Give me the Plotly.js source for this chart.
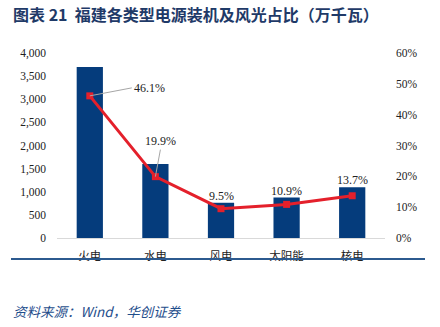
<!DOCTYPE html>
<html><head><meta charset="utf-8">
<script src="https://cdn.plot.ly/plotly-3.0.1.min.js"></script>
<style>html,body{margin:0;padding:0;background:#fff;}#c{width:440px;height:327px;}</style>
</head><body><div id="c"></div>
<script>
const categories = ['火电','水电','风电','太阳能','核电'];
const capacity = [3700, 1598, 762, 875, 1099];
const share = [46.1, 19.9, 9.5, 10.9, 13.7];
const shareLabels = ['46.1%','19.9%','9.5%','10.9%','13.7%'];
const leftTicks = [0,500,1000,1500,2000,2500,3000,3500,4000];
const rightTicks = [0,10,20,30,40,50,60];

const serif = 'Liberation Serif, Times New Roman, serif';
const cjk = 'Noto Sans CJK SC, sans-serif';

const traces = [
  {type:'bar', x:categories, y:capacity, marker:{color:'#053C7C'}, width:0.4, hoverinfo:'skip'},
  {type:'scatter', mode:'lines+markers', x:categories, y:share, yaxis:'y2',
   line:{color:'#E4202B', width:3}, marker:{symbol:'square', size:7, color:'#E4202B'}, hoverinfo:'skip'}
];

const annotations = [];
annotations.push({x:categories[0], y:share[0], xref:'x', yref:'y2', text:shareLabels[0], showarrow:true,
  arrowhead:0, arrowwidth:1, arrowcolor:'#A6A6A6', ax:42, ay:-8, xanchor:'left', yanchor:'middle',
  font:{family:serif, size:12, color:'#222'}});
annotations.push({x:categories[1], y:share[1], xref:'x', yref:'y2', text:shareLabels[1], showarrow:true,
  arrowhead:0, arrowwidth:1, arrowcolor:'#A6A6A6', ax:5, ay:-27, xanchor:'center', yanchor:'bottom',
  font:{family:serif, size:12, color:'#222'}});
for (let i=2;i<categories.length;i++){
  annotations.push({x:categories[i], y:capacity[i], xref:'x', yref:'y', text:shareLabels[i], showarrow:false,
    yanchor:'bottom', yshift:-2, font:{family:serif, size:12, color:'#222'}});
}
annotations.push({xref:'paper', yref:'paper', x:-0.14, y:1.0, xanchor:'left', yanchor:'bottom', yshift:25,
  text:'<b>图表 21  福建各类型电源装机及风光占比（万千瓦）</b>', showarrow:false,
  font:{family:cjk, size:16, color:'#1F3A68'}});
annotations.push({xref:'paper', yref:'paper', x:-0.14, y:0, xanchor:'left', yanchor:'top', yshift:-61,
  text:'<i>资料来源：Wind，华创证券</i>', showarrow:false,
  font:{family:'Noto Sans CJK SC, '+serif, size:13.5, color:'#1F4E8C'}});

const ph = 327-53-89;
const layout = {
  width:440, height:327,
  margin:{l:57, r:55, t:53, b:89},
  paper_bgcolor:'#fff', plot_bgcolor:'#fff',
  showlegend:false,
  xaxis:{type:'category', showline:true, linecolor:'#D9D9D9', linewidth:1, ticks:'', showgrid:false,
    tickfont:{family:cjk, size:11.5, color:'#222'}, ticklabelstandoff:7, fixedrange:true},
  yaxis:{range:[0,4000], tickvals:leftTicks, ticktext:leftTicks.map(v=>v.toLocaleString('en-US')),
    showgrid:false, zeroline:false, showline:false, ticks:'', ticklabelstandoff:10,
    tickfont:{family:serif, size:11.5, color:'#222'}},
  yaxis2:{overlaying:'y', side:'right', range:[0,60], tickvals:rightTicks, ticktext:rightTicks.map(v=>v+'%'),
    showgrid:false, zeroline:false, showline:false, ticks:'', ticklabelstandoff:10,
    tickfont:{family:serif, size:11.5, color:'#222'}},
  annotations:annotations,
  shapes:[
    {type:'line', xref:'paper', yref:'paper', x0:(11-57)/328, x1:(425-57)/328, y0:(274-31)/ph, y1:(274-31)/ph,
     line:{color:'#2C5A8F', width:2}},
    {type:'line', xref:'paper', yref:'paper', x0:(11-57)/328, x1:(425-57)/328, y0:(274-295)/ph, y1:(274-295)/ph,
     line:{color:'#2C5A8F', width:2}}
  ]
};
Plotly.newPlot('c', traces, layout, {displayModeBar:false, staticPlot:true});
</script></body></html>
